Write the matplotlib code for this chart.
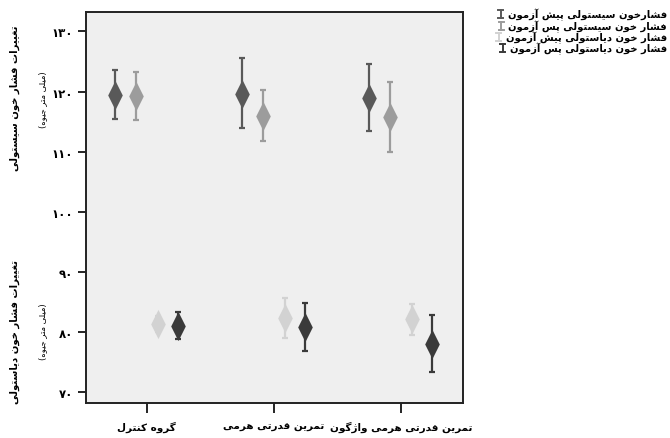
import numpy as np
import matplotlib
matplotlib.use("Agg")
import matplotlib.pyplot as plt
from matplotlib.path import Path
from matplotlib.lines import Line2D

# ---- data ----
groups = ["گروه کنترل", "تمرین قدرتی هرمی", "تمرین قدرتی هرمی واژگون"]
series = ["فشارخون سیستولی پیش آزمون", "فشار خون سیستولی پس آزمون",
          "فشار خون دیاستولی پیش آزمون", "فشار خون دیاستولی پس آزمون"]
sys_pre = [119.4, 119.6, 118.9]
sys_pre_lo = [115.5, 113.9, 113.4]
sys_pre_hi = [123.6, 125.6, 124.6]
sys_post = [119.2, 116.0, 115.7]
sys_post_lo = [115.2, 111.8, 109.9]
sys_post_hi = [123.3, 120.2, 121.5]
dia_pre = [81.3, 82.3, 82.2]
dia_pre_lo = [80.0, 79.0, 79.5]
dia_pre_hi = [82.6, 85.7, 84.6]
dia_post = [81.05, 80.8, 78.0]
dia_post_lo = [78.8, 76.8, 73.4]
dia_post_hi = [83.3, 84.8, 82.8]
yticks = [70, 80, 90, 100, 110, 120, 130]

colors = ["#595959", "#9c9c9c", "#d2d2d2", "#3a3a3a"]
offsets = [-0.25, -0.085, 0.085, 0.25]

# ---- tiny Persian shaper (matplotlib has no RTL shaping) ----
FORMS = {
    'ا': ('\uFE8D', '\uFE8E', None, None), 'آ': ('\uFE81', '\uFE82', None, None),
    'د': ('\uFEA9', '\uFEAA', None, None), 'ر': ('\uFEAD', '\uFEAE', None, None),
    'ز': ('\uFEAF', '\uFEB0', None, None), 'ژ': ('\uFB8A', '\uFB8B', None, None),
    'و': ('\uFEED', '\uFEEE', None, None),
    'ب': ('\uFE8F', '\uFE90', '\uFE91', '\uFE92'), 'پ': ('\uFB56', '\uFB57', '\uFB58', '\uFB59'),
    'ت': ('\uFE95', '\uFE96', '\uFE97', '\uFE98'), 'ج': ('\uFE9D', '\uFE9E', '\uFE9F', '\uFEA0'),
    'خ': ('\uFEA5', '\uFEA6', '\uFEA7', '\uFEA8'), 'س': ('\uFEB1', '\uFEB2', '\uFEB3', '\uFEB4'),
    'ش': ('\uFEB5', '\uFEB6', '\uFEB7', '\uFEB8'), 'غ': ('\uFECD', '\uFECE', '\uFECF', '\uFED0'),
    'ف': ('\uFED1', '\uFED2', '\uFED3', '\uFED4'), 'ق': ('\uFED5', '\uFED6', '\uFED7', '\uFED8'),
    'ک': ('\uFB8E', '\uFB8F', '\uFB90', '\uFB91'), 'گ': ('\uFB92', '\uFB93', '\uFB94', '\uFB95'),
    'ل': ('\uFEDD', '\uFEDE', '\uFEDF', '\uFEE0'), 'م': ('\uFEE1', '\uFEE2', '\uFEE3', '\uFEE4'),
    'ن': ('\uFEE5', '\uFEE6', '\uFEE7', '\uFEE8'), 'ه': ('\uFEE9', '\uFEEA', '\uFEEB', '\uFEEC'),
    'ی': ('\uFBFC', '\uFBFD', '\uFBFE', '\uFBFF'),
}


def fa(text):
    out = []
    for i, ch in enumerate(text):
        if ch not in FORMS:
            out.append(ch)
            continue
        prev = text[i - 1] if i > 0 else ''
        nxt = text[i + 1] if i + 1 < len(text) else ''
        join_prev = prev in FORMS and FORMS[prev][2] is not None
        join_next = FORMS[ch][2] is not None and nxt in FORMS
        iso, fin, ini, med = FORMS[ch]
        if join_prev and join_next:
            out.append(med)
        elif join_prev:
            out.append(fin)
        elif join_next:
            out.append(ini)
        else:
            out.append(iso)
    s = ''.join(reversed(out))
    return s.translate(str.maketrans('()', ')('))


def fa_digits(n):
    return str(n).translate(str.maketrans('0123456789', '۰۱۲۳۴۵۶۷۸۹'))


plt.rcParams['font.family'] = ['DejaVu Sans']
diamond = Path([(0, 1), (0.5, 0), (0, -1), (-0.5, 0), (0, 1)],
               [Path.MOVETO, Path.LINETO, Path.LINETO, Path.LINETO, Path.CLOSEPOLY])

fig = plt.figure(figsize=(6.7, 4.39), dpi=100)
ax = fig.add_axes([0.128, 0.080, 0.563, 0.890])
ax.set_facecolor("#efefef")

x = np.arange(len(groups))
means = [sys_pre, sys_post, dia_pre, dia_post]
los = [sys_pre_lo, sys_post_lo, dia_pre_lo, dia_post_lo]
his = [sys_pre_hi, sys_post_hi, dia_pre_hi, dia_post_hi]
for m, lo, hi, c, off in zip(means, los, his, colors, offsets):
    m = np.array(m)
    err = [m - np.array(lo), np.array(hi) - m]
    ax.errorbar(x + off, m, yerr=err, fmt='none', ecolor=c, elinewidth=1.6,
                capsize=2.5, capthick=1.6, zorder=2)
    ax.plot(x + off, m, linestyle='none', marker=diamond, markersize=21,
            color=c, markeredgewidth=0, zorder=3)

ax.set_xlim(-0.48, 2.49)
ax.set_ylim(68.2, 133.2)
ax.set_xticks(x)
ax.set_xticklabels([fa(g) for g in groups], fontweight='bold', fontsize=7.5)
ax.set_yticks(yticks)
ax.set_yticklabels([fa_digits(t) for t in yticks], fontweight='bold', fontsize=8.5)
ax.tick_params(axis='x', length=7, width=1.2, pad=6)
ax.tick_params(axis='y', length=6, width=1.2, pad=3)
for sp in ax.spines.values():
    sp.set_linewidth(1.4)
    sp.set_color("#222222")

# y-axis titles
fig.text(15 / 670, 1 - 98 / 439, fa("تغییرات فشار خون سیستولی"), rotation=90,
         ha='center', va='center', fontsize=7.3, fontweight='bold')
fig.text(43 / 670, 1 - 100 / 439, fa("(میلی متر جیوه)"), rotation=90,
         ha='center', va='center', fontsize=6)
fig.text(15 / 670, 1 - 332 / 439, fa("تغییرات فشار خون دیاستولی"), rotation=90,
         ha='center', va='center', fontsize=7.3, fontweight='bold')
fig.text(43 / 670, 1 - 332 / 439, fa("(میلی متر جیوه)"), rotation=90,
         ha='center', va='center', fontsize=6)

# legend: right-aligned text with a small error-bar symbol to its left
fig.canvas.draw()
renderer = fig.canvas.get_renderer()
leg_y = [15, 27, 38, 49]
for name, c, yy in zip(series, colors, leg_y):
    t = fig.text(667 / 670, 1 - yy / 439, fa(name), ha='right', va='center',
                 fontsize=7.2, fontweight='bold')
    bb = t.get_window_extent(renderer)
    sx = bb.x0 - 7
    cy = 439 - yy
    for seg in [((sx, sx), (cy - 4, cy + 4)), ((sx - 2.5, sx + 2.5), (cy + 4, cy + 4)),
                ((sx - 2.5, sx + 2.5), (cy - 4, cy - 4))]:
        fig.add_artist(Line2D(np.array(seg[0]) / 670, np.array(seg[1]) / 439,
                              color=c, lw=1.4, transform=fig.transFigure))

fig.savefig("out.png", dpi=100)
